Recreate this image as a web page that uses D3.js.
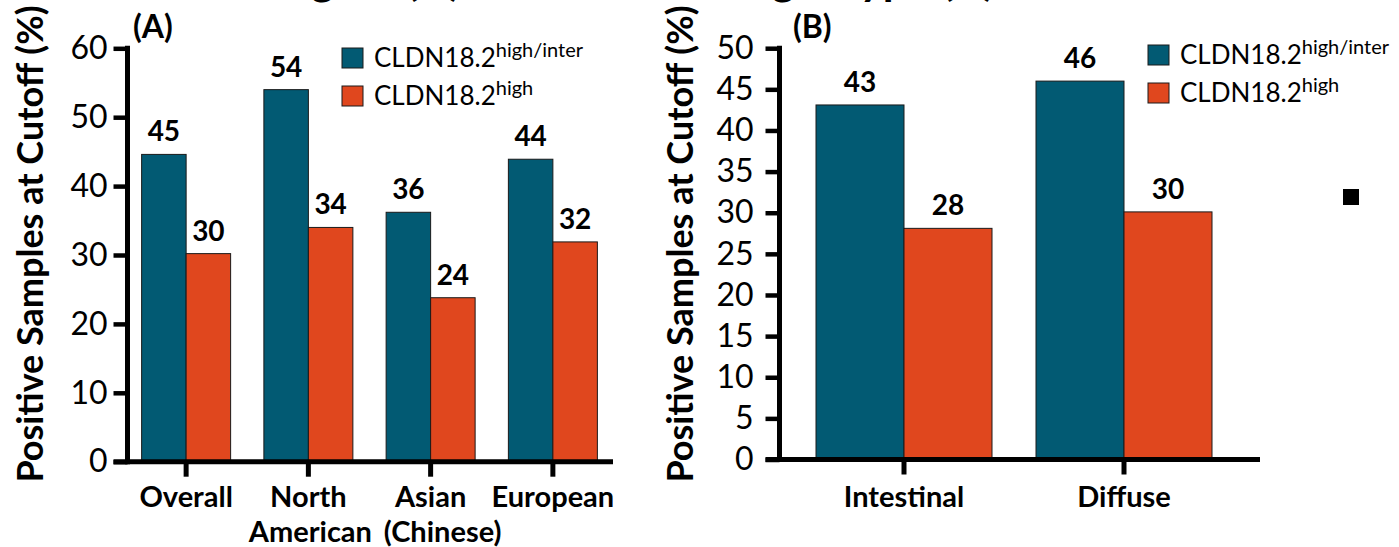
<!DOCTYPE html>
<html>
<head>
<meta charset="utf-8">
<script src="https://cdn.jsdelivr.net/npm/d3@7"></script>
<style>
  html, body { margin: 0; padding: 0; background: #fff; }
  svg { display: block; }
  text { font-family: Lato, "Open Sans", sans-serif; fill: #000; }
</style>
</head>
<body>
<svg id="chart" width="1399" height="547"></svg>
<script>
// ---------- data ----------
const seriesKeys = ["highInter", "high"];
const seriesBase = ["CLDN18.2", "CLDN18.2"];
const seriesSup = ["high/inter", "high"];
const seriesColors = ["#025a73", "#e0471e"];

const catsA = ["Overall", "North American", "Asian (Chinese)", "European"];
const catLinesA = [["Overall"], ["North", "American"], ["Asian", "(Chinese)"], ["European"]];
const highInterA = [44.6, 54.0, 36.2, 43.9];
const highA = [30.2, 34.0, 23.8, 31.9];
const labelsHighInterA = ["45", "54", "36", "44"];
const labelsHighA = ["30", "34", "24", "32"];
const ticksA = [0, 10, 20, 30, 40, 50, 60];

const catsB = ["Intestinal", "Diffuse"];
const catLinesB = [["Intestinal"], ["Diffuse"]];
const highInterB = [43.1, 46.0];
const highB = [28.1, 30.1];
const labelsHighInterB = ["43", "46"];
const labelsHighB = ["28", "30"];
const ticksB = [0, 5, 10, 15, 20, 25, 30, 35, 40, 45, 50];

const yTitle = "Positive Samples at Cutoff (%)";
const topTitleLeft = "Region (A)";
const topTitleRight = "Histologic Type (B)";

const svg = d3.select("#chart");

// cropped top title (only descenders visible in the original)
svg.append("text").attr("x", 461).attr("y", -5).attr("text-anchor", "end")
  .style("font-size", "44px").style("font-weight", "bold").text(topTitleLeft);
svg.append("text").attr("x", 995).attr("y", -5).attr("text-anchor", "end")
  .style("font-size", "44px").style("font-weight", "bold").text(topTitleRight);

function panel(cfg) {
  const g = svg.append("g");
  const y = d3.scaleLinear().domain([0, cfg.ticks[cfg.ticks.length - 1]]).range(cfg.yRange);
  const x = d3.scaleBand().domain(cfg.cats).range(cfg.xRange)
    .paddingInner(cfg.padIn).paddingOuter(cfg.padIn / 2);
  const x1 = d3.scaleBand().domain(seriesKeys).range([0, x.bandwidth()]);

  const rows = cfg.cats.map((c, i) => ({
    cat: c, lines: cfg.lines[i],
    vals: [cfg.s1[i], cfg.s2[i]],
    labs: [cfg.l1[i], cfg.l2[i]]
  }));

  // bars
  rows.forEach(r => {
    seriesKeys.forEach((k, j) => {
      g.append("rect")
        .attr("x", x(r.cat) + x1(k))
        .attr("y", y(r.vals[j]))
        .attr("width", x1.bandwidth())
        .attr("height", y(0) - y(r.vals[j]))
        .attr("fill", seriesColors[j])
        .attr("stroke", "#1a1a1a").attr("stroke-width", 1);
      g.append("text")
        .attr("x", x(r.cat) + x1(k) + x1.bandwidth() / 2)
        .attr("y", y(r.vals[j]) - 13)
        .attr("text-anchor", "middle")
        .style("font-size", "28px").style("font-weight", "bold")
        .text(r.labs[j]);
    });
  });

  // y axis
  const yAxis = d3.axisLeft(y).tickValues(cfg.ticks).tickSize(14)
    .tickPadding(cfg.tickPad).tickFormat(d3.format("d"));
  const ya = g.append("g").attr("transform", `translate(${cfg.axisX},0)`).call(yAxis);
  ya.select(".domain").remove();
  ya.selectAll(".tick line").attr("stroke", "#000").attr("stroke-width", 4.5);
  ya.selectAll(".tick text").style("font-size", "32px").style("font-family", "Lato, sans-serif")
    .attr("fill", "#000");
  g.append("line").attr("x1", cfg.axisX).attr("x2", cfg.axisX)
    .attr("y1", y(cfg.ticks[cfg.ticks.length - 1]) - 2.5).attr("y2", y(0) + 2.5)
    .attr("stroke", "#000").attr("stroke-width", 5);

  // x axis
  const xAxis = d3.axisBottom(x).tickSize(15).tickFormat("");
  const xa = g.append("g").attr("transform", `translate(0,${y(0)})`).call(xAxis);
  xa.select(".domain").remove();
  xa.selectAll(".tick line").attr("stroke", "#000").attr("stroke-width", 5);
  g.append("line").attr("x1", cfg.axisX - 14).attr("x2", cfg.xEnd)
    .attr("y1", y(0)).attr("y2", y(0))
    .attr("stroke", "#000").attr("stroke-width", 5);

  // category labels
  rows.forEach((r, i) => {
    r.lines.forEach((ln, li) => {
      const dx = li > 0 ? (cfg.lineDx ? cfg.lineDx[i] : 0) : 0;
      g.append("text")
        .attr("x", x(r.cat) + x.bandwidth() / 2 + dx)
        .attr("y", 507 + li * 35)
        .attr("text-anchor", "middle")
        .style("font-size", "29px").style("font-weight", "bold")
        .text(ln);
    });
  });

  // y title
  g.append("text")
    .attr("transform", `translate(${cfg.titleX},244) rotate(-90)`)
    .attr("text-anchor", "middle")
    .style("font-size", "36px").style("font-weight", "bold")
    .text(yTitle);

  // panel letter
  g.append("text").attr("x", cfg.letterX).attr("y", 38)
    .style("font-size", "32px").style("font-weight", "bold").text(cfg.letter);

  // legend
  seriesKeys.forEach((k, j) => {
    const ly = cfg.legY + j * 38;
    g.append("rect").attr("x", cfg.legX).attr("y", ly).attr("width", 21).attr("height", 20)
      .attr("fill", seriesColors[j]).attr("stroke", "#1a1a1a").attr("stroke-width", 1);
    const t = g.append("text").attr("x", cfg.legX + 32).attr("y", ly + 18.5)
      .style("font-size", "26px");
    t.append("tspan").text(seriesBase[j]);
    t.append("tspan").attr("dy", -10).style("font-size", "20px").text(seriesSup[j]);
  });
}

panel({
  cats: catsA, lines: catLinesA, s1: highInterA, s2: highA,
  l1: labelsHighInterA, l2: labelsHighA, ticks: ticksA,
  yRange: [461.7, 48.3], xRange: [125, 614], padIn: 0.272,
  axisX: 127.5, xEnd: 613, tickPad: 6, titleX: 43,
  letter: "(A)", letterX: 133, legX: 342, legY: 48,
  lineDx: [0, 2, 12, 0]
});

panel({
  cats: catsB, lines: catLinesB, s1: highInterB, s2: highB,
  l1: labelsHighInterB, l2: labelsHighB, ticks: ticksB,
  yRange: [459.5, 48.2], xRange: [794, 1234], padIn: 0.2,
  axisX: 779.5, xEnd: 1260, tickPad: 12, titleX: 693,
  letter: "(B)", letterX: 793, legX: 1148, legY: 45
});

// stray marker square at right
svg.append("rect").attr("x", 1343).attr("y", 189).attr("width", 16).attr("height", 16).attr("fill", "#000");
</script>
</body>
</html>
